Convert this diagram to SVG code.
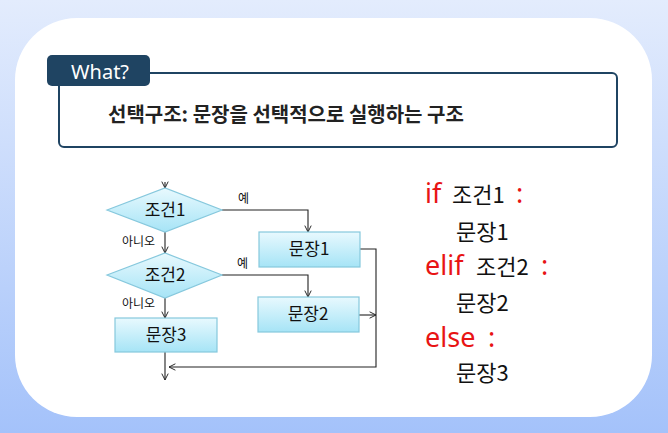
<svg xmlns="http://www.w3.org/2000/svg" width="668" height="433" viewBox="0 0 668 433">
<defs>
<linearGradient id="bg" x1="0" y1="0" x2="0" y2="1">
<stop offset="0" stop-color="#e3ecfd"/>
<stop offset="1" stop-color="#a4c2fa"/>
</linearGradient>
<linearGradient id="nodeFill" x1="0" y1="0" x2="0" y2="1">
<stop offset="0" stop-color="#e8f9fe"/>
<stop offset="1" stop-color="#a6e4f6"/>
</linearGradient>
<marker id="arr" viewBox="0 0 10 10" refX="9" refY="5" markerWidth="8" markerHeight="8" markerUnits="userSpaceOnUse" orient="auto">
<path d="M1,1 L9,5 L1,9" fill="none" stroke="#222" stroke-width="1.2"/>
</marker>
<style>
.node{fill:url(#nodeFill);stroke:#86c8dd;stroke-width:1.2}
.conn{fill:none;stroke:#222;stroke-width:1.1}
.nt{font-family:"Noto Sans CJK KR","Noto Sans",sans-serif;font-size:17px;fill:#111;text-anchor:middle}
.lbl{font-family:"Noto Sans CJK KR","Noto Sans",sans-serif;font-size:12px;fill:#111}
.kw{font-family:"Noto Sans","Noto Sans CJK KR",sans-serif;font-size:27px;fill:#e81414}
.code{font-family:"Noto Sans CJK KR","Noto Sans",sans-serif;font-size:22px;fill:#111}
</style>
</defs>
<rect x="0" y="0" width="668" height="433" fill="url(#bg)"/>
<rect x="15" y="18" width="637" height="399" rx="62" ry="62" fill="#ffffff"/>

<g id="what-box">
<rect x="59" y="73" width="558" height="74" rx="5" fill="#ffffff" stroke="#1f4462" stroke-width="2"/>
<rect x="47" y="55" width="103" height="31" rx="5" fill="#1f4462"/>
<text x="100" y="79" text-anchor="middle" font-family="'Noto Sans','Liberation Sans',sans-serif" font-size="20" fill="#ffffff">What?</text>
<text x="108" y="122" font-family="'Noto Sans CJK KR',sans-serif" font-size="20" font-weight="bold" fill="#222">선택구조: 문장을 선택적으로 실행하는 구조</text>
</g>

<g id="connectors">
<path class="conn" d="M165,182 L165,188" marker-end="url(#arr)"/>
<path class="conn" d="M165,232 L165,253" marker-end="url(#arr)"/>
<path class="conn" d="M222,210 L308,210 L308,232" marker-end="url(#arr)"/>
<path class="conn" d="M222,275 L308,275 L308,297" marker-end="url(#arr)"/>
<path class="conn" d="M165,298 L165,318" marker-end="url(#arr)"/>
<path class="conn" d="M165,352 L165,380" marker-end="url(#arr)"/>
<path class="conn" d="M360,249 L376,249 L376,367 L169,367" marker-end="url(#arr)"/>
<path class="conn" d="M359,315 L376,315" marker-end="url(#arr)"/>
<text class="lbl" x="238" y="203">예</text>
<text class="lbl" x="122" y="246">아니오</text>
<text class="lbl" x="237" y="268">예</text>
<text class="lbl" x="122" y="308">아니오</text>
</g>

<g id="cond1">
<polygon class="node" points="107,210 165,188 222,210 165,232"/>
<text class="nt" x="165" y="216">조건1</text>
</g>
<g id="cond2">
<polygon class="node" points="107,275 165,253 222,275 165,298"/>
<text class="nt" x="165" y="281">조건2</text>
</g>
<g id="stmt1">
<rect class="node" x="259" y="232" width="101" height="35"/>
<text class="nt" x="309" y="255">문장1</text>
</g>
<g id="stmt2">
<rect class="node" x="258" y="297" width="101" height="35"/>
<text class="nt" x="308" y="320">문장2</text>
</g>
<g id="stmt3">
<rect class="node" x="115" y="318" width="102" height="34"/>
<text class="nt" x="166" y="341">문장3</text>
</g>

<g id="code">
<text class="kw" x="425" y="203">if</text>
<text class="code" x="452" y="203">조건1</text>
<text class="kw" x="516" y="203">:</text>
<text class="code" x="456" y="240">문장1</text>
<text class="kw" x="425" y="275">elif</text>
<text class="code" x="476" y="275">조건2</text>
<text class="kw" x="541" y="275">:</text>
<text class="code" x="456" y="311">문장2</text>
<text class="kw" x="425" y="347">else</text>
<text class="kw" x="488" y="347">:</text>
<text class="code" x="456" y="381">문장3</text>
</g>
</svg>
